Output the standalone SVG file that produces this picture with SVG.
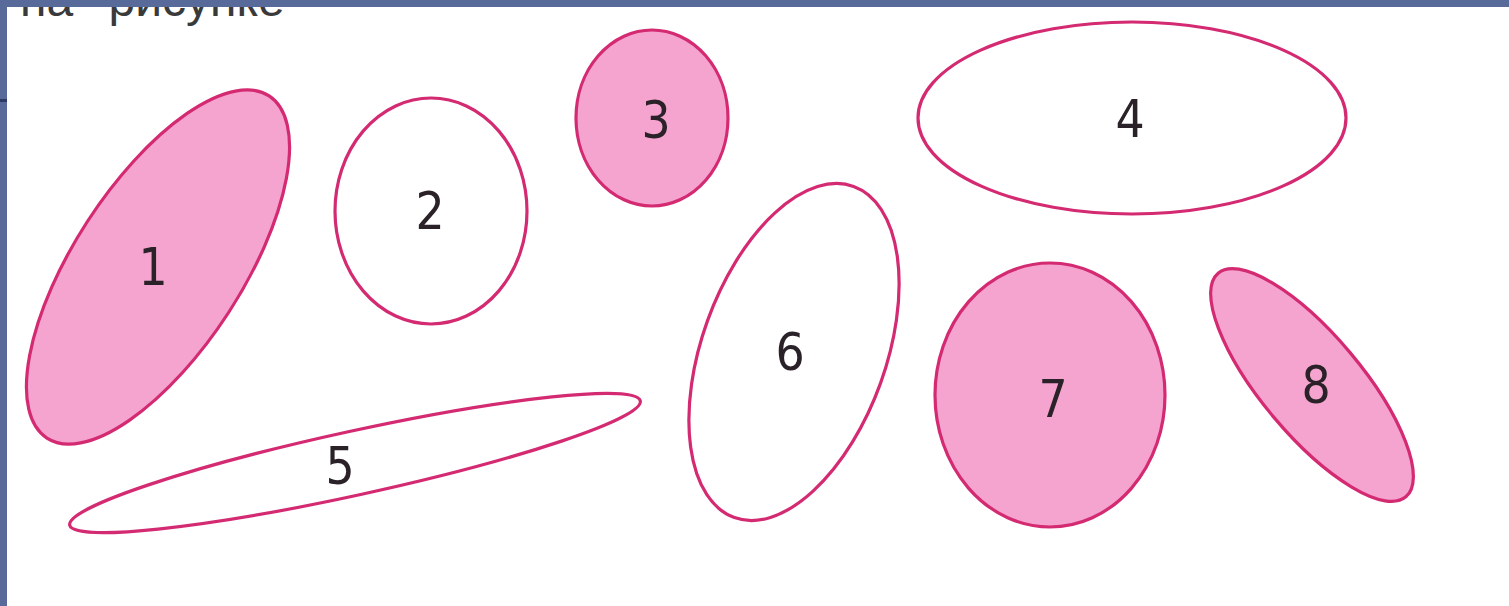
<svg xmlns="http://www.w3.org/2000/svg" width="1509" height="606" viewBox="0 0 1509 606">
<style>
.sh{stroke:#d42a72;stroke-width:3.2}
.pk{fill:#f4a4cf}
.wh{fill:#ffffff}
.lb{font-family:"Liberation Sans Narrow","DejaVu Sans Condensed","Liberation Sans",sans-serif;font-size:51px;fill:#2a2228;text-anchor:middle}
.hd{font-family:"Liberation Sans","DejaVu Sans",sans-serif;font-size:48px;fill:#3a3a3a;word-spacing:22px}
</style>
<defs>
<clipPath id="page" clipPathUnits="userSpaceOnUse"><rect x="7" y="7" width="1502" height="599"/></clipPath>
</defs>
<rect x="0" y="0" width="1509" height="606" fill="#586a9a"/>
<rect x="0" y="99" width="7" height="3" fill="#2c3b66"/>
<rect x="7" y="7" width="1502" height="599" fill="#ffffff"/>
<g clip-path="url(#page)">
<text class="hd" x="20" y="16">на рисунке</text>
</g>
<g id="connectors"/>
<g id="node1">
<ellipse class="sh pk" cx="158" cy="267" rx="204" ry="84" transform="rotate(-57 158 267)"/>
<text class="lb" x="153" y="285">1</text>
</g>
<g id="node2">
<ellipse class="sh wh" cx="431" cy="211" rx="96" ry="113"/>
<text class="lb" x="430" y="229">2</text>
</g>
<g id="node3">
<ellipse class="sh pk" cx="652" cy="118" rx="76" ry="88"/>
<text class="lb" x="656" y="138">3</text>
</g>
<g id="node4">
<ellipse class="sh wh" cx="1132" cy="118" rx="214" ry="96"/>
<text class="lb" x="1130" y="137">4</text>
</g>
<g id="node5">
<ellipse class="sh wh" cx="355" cy="463" rx="292" ry="32" transform="rotate(-12.3 355 463)"/>
<text class="lb" x="340" y="484">5</text>
</g>
<g id="node6">
<ellipse class="sh wh" cx="794" cy="352" rx="176" ry="92" transform="rotate(-70.2 794 352)"/>
<text class="lb" x="790" y="370">6</text>
</g>
<g id="node7">
<ellipse class="sh pk" cx="1050" cy="395" rx="115" ry="132"/>
<text class="lb" x="1053" y="417">7</text>
</g>
<g id="node8">
<ellipse class="sh pk" cx="1312" cy="385" rx="146" ry="50" transform="rotate(50 1312 385)"/>
<text class="lb" x="1316" y="403">8</text>
</g>
</svg>
